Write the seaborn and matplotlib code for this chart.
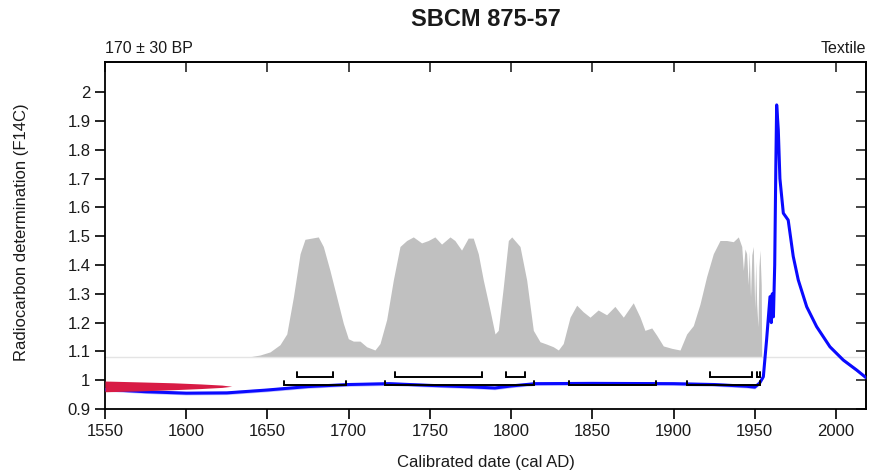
import numpy as np
import pandas as pd
import matplotlib
matplotlib.use("Agg")
import matplotlib.pyplot as plt
import seaborn as sns

sns.set_theme(style="ticks")
plt.rcParams["font.family"] = ["Liberation Sans", "DejaVu Sans"]

# calibration curve (F14C)
curve_year = [1550, 1575, 1600, 1625, 1650, 1675, 1700, 1725, 1750, 1775, 1790,
              1800, 1815, 1850, 1900, 1925, 1945, 1950, 1953, 1955.3, 1957.3,
              1959.4, 1960.2, 1960.8, 1961.5, 1962.3, 1963.0, 1963.5, 1964.5,
              1965.5, 1967.6, 1970.6, 1973.7, 1976.8, 1982.0, 1988.1, 1996.3,
              2004.5, 2012.8, 2018.5]
curve_f14c = [0.968, 0.960, 0.955, 0.956, 0.966, 0.978, 0.985, 0.988, 0.982, 0.977, 0.973,
              0.980, 0.988, 0.989, 0.988, 0.985, 0.979, 0.976, 0.990, 1.012, 1.14,
              1.29, 1.20, 1.30, 1.22, 1.40, 1.75, 1.956, 1.87,
              1.70, 1.58, 1.556, 1.43, 1.348, 1.255, 1.186, 1.116,
              1.07, 1.035, 1.009]

# calibrated probability (relative, max = 1)
prob_year = [1550, 1639.3, 1645.4, 1651.6, 1657.7, 1661.9, 1666.0, 1670.1, 1673.1, 1677.2,
             1681.3, 1684.4, 1688.5, 1692.6, 1696.7, 1699.8, 1702.9, 1707.0, 1711.1,
             1716.2, 1719.3, 1723.4, 1727.5, 1731.6, 1735.7, 1739.8, 1744.9, 1749.0,
             1753.1, 1757.2, 1762.4, 1765.4, 1769.5, 1773.6, 1776.7, 1779.8, 1782.9,
             1787.0, 1790.1, 1792.1, 1795.2, 1798.3, 1800.4, 1805.5, 1809.6, 1813.7,
             1817.8, 1821.9, 1826.0, 1829.1, 1832.1, 1836.3, 1840.4, 1844.4, 1848.6,
             1853.6, 1858.8, 1863.9, 1869.1, 1875.2, 1879.4, 1882.4, 1886.6, 1889.6,
             1893.7, 1898.9, 1904.0, 1908.1, 1912.2, 1916.3, 1920.4, 1924.5, 1928.6,
             1932.7, 1936.8, 1939.9, 1942.0, 1943.0, 1944.0, 1945.0, 1946.0, 1946.6,
             1947.4, 1948.2, 1949.1, 1950.0, 1950.6, 1951.2, 1952.0, 1952.6, 1953.2,
             1954.0, 1954.3, 2018.5]
prob_rel = [0, 0, 0.014, 0.04, 0.10, 0.19, 0.50, 0.86, 0.98, 0.99,
            1.0, 0.92, 0.72, 0.50, 0.28, 0.15, 0.13, 0.13, 0.083,
            0.056, 0.11, 0.31, 0.64, 0.92, 0.97, 1.0, 0.95, 0.97,
            1.0, 0.94, 1.0, 0.97, 0.89, 0.99, 0.99, 0.86, 0.64,
            0.39, 0.19, 0.22, 0.58, 0.97, 1.0, 0.92, 0.64, 0.22,
            0.125, 0.105, 0.083, 0.056, 0.11, 0.33, 0.43, 0.375, 0.33,
            0.39, 0.35, 0.42, 0.33, 0.45, 0.33, 0.22, 0.24, 0.18,
            0.09, 0.07, 0.056, 0.19, 0.26, 0.44, 0.67, 0.86, 0.97,
            0.97, 0.96, 1.0, 0.92, 0.72, 0.90, 0.86, 0.60, 0.88,
            0.50, 0.85, 0.92, 0.40, 0.80, 0.44, 0.25, 0.75, 0.89,
            0.60, 0, 0]

# measured value 170 +/- 30 BP drawn as a sideways distribution
red_f14c = [0.960, 0.963, 0.967, 0.971, 0.975, 0.979, 0.983, 0.987, 0.991, 0.994, 0.997]
red_reach = [1551, 1572, 1592, 1609, 1622, 1628, 1622, 1609, 1592, 1572, 1551]

# 68.2% and 95.4% ranges (cal AD)
range_68 = [(1668, 1690.4), (1728.5, 1781.9), (1796.7, 1808.6), (1922.5, 1948.1), (1951.6, 1953.0)]
range_95 = [(1660.2, 1698.4), (1722.3, 1814.1), (1835.6, 1889.0), (1908.1, 1953.2)]

x_ticks = [1550, 1600, 1650, 1700, 1750, 1800, 1850, 1900, 1950, 2000]
y_ticks = [0.9, 1.0, 1.1, 1.2, 1.3, 1.4, 1.5, 1.6, 1.7, 1.8, 1.9, 2.0]

XMIN, XMAX = 1550, 2018.5
YMIN, YMAX = 0.9, 2.105
PROB_BASE, PROB_SCALE = 1.0816, 0.416
TXT = "#1a1a1a"

fig = plt.figure(figsize=(8.72, 4.75), dpi=100)
ax = fig.add_axes([105 / 872, 1 - 409 / 475, 761 / 872, 347 / 475])

# probability distribution
py = PROB_BASE + PROB_SCALE * np.array(prob_rel)
ax.fill_between(prob_year, PROB_BASE, py, color="#c0c0c0", lw=0, zorder=1)
ax.axhline(PROB_BASE, color="#e4e4e4", lw=1, zorder=1)

# calibration curve
curve = pd.DataFrame({"year": curve_year, "f14c": curve_f14c})
ax.fill_between(curve["year"], curve["f14c"] - 0.006, curve["f14c"] + 0.006,
                color="#6b6bff", alpha=0.45, lw=0, zorder=3)
sns.lineplot(data=curve, x="year", y="f14c", color="#0a0aff", lw=2.2,
             ax=ax, zorder=4, legend=False)

# measurement (drawn over the curve)
ax.fill_betweenx(red_f14c, XMIN, red_reach, color="#d81b45", lw=0, zorder=4.5)

# range brackets
for rows, yy in ((range_68, 1.012), (range_95, 0.983)):
    for a, b in rows:
        ax.plot([a, a, b, b], [yy + 0.015, yy, yy, yy + 0.015],
                color="black", lw=1.4, solid_joinstyle="miter", zorder=5)

ax.set_xlim(XMIN, XMAX)
ax.set_ylim(YMIN, YMAX)
ax.set_xticks(x_ticks)
ax.set_yticks(y_ticks)
ax.set_yticklabels(["%g" % v for v in y_ticks])
ax.set_xlabel("")
ax.set_ylabel("")
ax.tick_params(axis="both", direction="out", length=7.5, width=1.2,
               labelsize=12, colors="black", labelcolor=TXT, pad=3)
for s in ax.spines.values():
    s.set_visible(True)
    s.set_linewidth(1.3)
    s.set_color("black")

top = ax.secondary_xaxis("top")
top.set_xticks(x_ticks)
top.tick_params(direction="in", length=7.5, width=1.2, labeltop=False)
top.spines["top"].set_linewidth(1.3)
right = ax.secondary_yaxis("right")
right.set_yticks(y_ticks)
right.tick_params(direction="in", length=7.5, width=1.2, labelright=False)
right.spines["right"].set_linewidth(1.3)

fig.text(486 / 872, 1 - 20 / 475, "SBCM 875-57", ha="center", va="center",
         fontsize=17, fontweight="bold", color=TXT)
fig.text(105 / 872, 1 - 53 / 475, "170 \u00b1 30 BP", ha="left", va="baseline",
         fontsize=11.5, color=TXT)
fig.text(866 / 872, 1 - 53 / 475, "Textile", ha="right", va="baseline",
         fontsize=11.5, color=TXT)
fig.text(485.5 / 872, 1 - 463 / 475, "Calibrated date (cal AD)", ha="center",
         va="center", fontsize=12, color=TXT)
fig.text(22 / 872, 1 - 232 / 475, "Radiocarbon determination (F14C)", ha="center",
         va="center", rotation=90, fontsize=12, color=TXT)

fig.savefig("out.png", dpi=100)
